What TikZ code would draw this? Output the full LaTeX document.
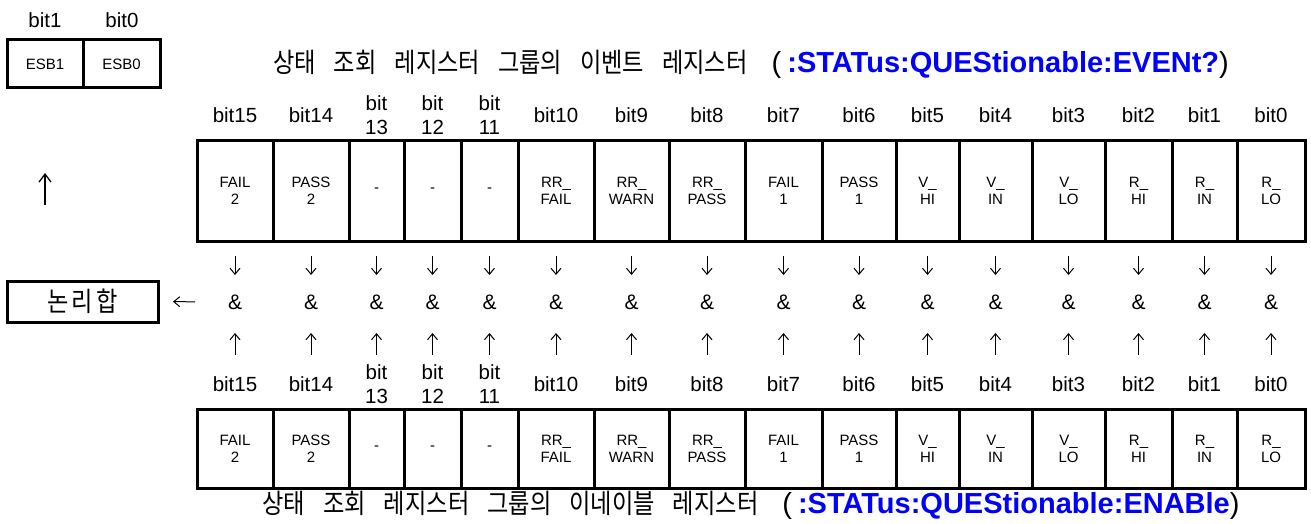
\documentclass[tikz,border=0pt]{standalone}
\usepackage{fontspec}
\setmainfont{Liberation Sans}
\newfontfamily\kr[FakeStretch=0.86]{Noto Sans CJK KR}
\usetikzlibrary{arrows.meta}
\definecolor{cmdblue}{RGB}{0,0,255}
\tikzset{
  regcell/.style={draw, line width=3pt, inner sep=0pt, outer sep=0pt, align=center, font=\fontsize{15}{17}\selectfont},
  bitlab/.style={inner sep=0pt, align=center, font=\fontsize{20.5}{24}\selectfont},
  andnode/.style={inner sep=0pt, outer sep=0pt, minimum width=40pt, minimum height=40pt, font=\fontsize{21}{24}\selectfont},
  arr/.style={line width=1pt, -{Straight Barb[length=6pt,width=10pt]}},
  bigarr/.style={line width=1.3pt, -{Straight Barb[length=8pt,width=12pt]}},
  titlenode/.style={inner sep=0pt, font=\fontsize{29}{32}\selectfont},
  korean/.style={font=\kr\fontsize{27}{30}\selectfont},
}
\begin{document}
\begin{tikzpicture}[x=1pt,y=-1pt]
\useasboundingbox (0,0) rectangle (1311,524);
% ESB register
\node[bitlab] (esb1lab) at (45,20) {bit1};
\node[bitlab] (esb0lab) at (122,20) {bit0};
\node[regcell, minimum width=76pt, minimum height=48pt] (esb1) at (45,64) {ESB1};
\node[regcell, minimum width=77pt, minimum height=48pt] (esb0) at (121.5,64) {ESB0};
% logical sum box
\node[regcell, korean, minimum width=151pt, minimum height=41pt] (lor) at (82.5,301.5) {논\hspace{3pt}리\hspace{3pt}합};
% titles
\node[titlenode] (t1) at (751,64) {{\kr\fontsize{27}{30}\selectfont\spaceskip=18pt\relax 상태 조회 레지스터 그룹의 이벤트 레지스터}\hspace{24pt}(\hspace{6pt}{\bfseries\color{cmdblue}:STATus:QUEStionable:EVENt?})};
\node[titlenode] (t2) at (751,505) {{\kr\fontsize{27}{30}\selectfont\spaceskip=18pt\relax 상태 조회 레지스터 그룹의 이네이블 레지스터}\hspace{24pt}(\hspace{6pt}{\bfseries\color{cmdblue}:STATus:QUEStionable:ENABle})};
% bit columns
\foreach \l/\r/\c/\b/\lab in {
  197/273/{FAIL\\2}/15/bit15,
  273/349/{PASS\\2}/14/bit14,
  349/404/-/13/{bit\\13},
  404/461/-/12/{bit\\12},
  461/518/-/11/{bit\\11},
  518/594/{RR\_\\FAIL}/10/bit10,
  594/669/{RR\_\\WARN}/9/bit9,
  669/745/{RR\_\\PASS}/8/bit8,
  745/822/{FAIL\\1}/7/bit7,
  822/896/{PASS\\1}/6/bit6,
  896/959/{V\_\\HI}/5/bit5,
  959/1032/{V\_\\IN}/4/bit4,
  1032/1105/{V\_\\LO}/3/bit3,
  1105/1172/{R\_\\HI}/2/bit2,
  1172/1237/{R\_\\IN}/1/bit1,
  1237/1305/{R\_\\LO}/0/bit0}{
  \pgfmathsetmacro\w{\r-\l}
  \pgfmathsetmacro\cx{(\l+\r)/2}
  \node[bitlab] (tl\b) at (\cx,115) {\lab};
  \node[regcell, minimum width=\w pt, minimum height=101pt] (te\b) at (\cx,190.5) {\c};
  \node[andnode] (and\b) at (\cx,302) {\&};
  \node[bitlab] (bl\b) at (\cx,384) {\lab};
  \node[regcell, minimum width=\w pt, minimum height=79pt] (be\b) at (\cx,448.5) {\c};
  \draw[arr, shorten <=15pt, shorten >=7pt] (te\b.south) -- (and\b.north);
  \draw[arr, shorten <=54pt, shorten >=11pt] (be\b.north) -- (and\b.south);
}
% arrows on the left
\draw[arr, shorten <=20pt, shorten >=15pt] (and15.west) -- (lor.east);
\draw[bigarr, shorten <=76pt, shorten >=85pt] (esb1.south |- lor.north) -- (esb1.south);
\end{tikzpicture}
\end{document}
